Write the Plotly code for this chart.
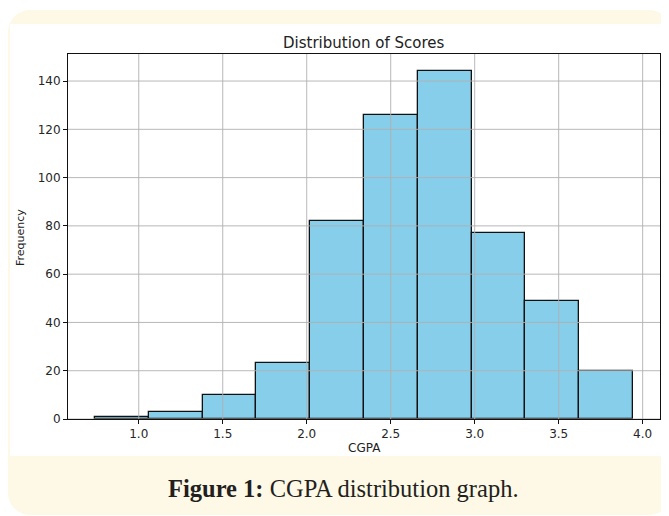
import plotly.graph_objects as go

# ---- data ----
bin_edges = [0.739, 1.059, 1.380, 1.700, 2.021, 2.341, 2.661, 2.982, 3.302, 3.623, 3.943]
counts = [1, 3, 10, 23, 82, 126, 144, 77, 49, 20]
x_ticks = [1.0, 1.5, 2.0, 2.5, 3.0, 3.5, 4.0]
y_ticks = [0, 20, 40, 60, 80, 100, 120, 140]
title_text = "Distribution of Scores"
x_label = "CGPA"
y_label = "Frequency"
caption = "<b>Figure 1:</b> CGPA distribution graph."

OFF = 8  # page body margin
W, H = 669 - OFF, 516 - OFF
L, R, T, B = 68 - OFF, 660 - OFF, 54 - OFF, 419 - OFF  # plot area in figure pixels

centers = [(a + b) / 2 for a, b in zip(bin_edges[:-1], bin_edges[1:])]
widths = [b - a for a, b in zip(bin_edges[:-1], bin_edges[1:])]

span = bin_edges[-1] - bin_edges[0]
x_range = [bin_edges[0] - 0.05 * span, bin_edges[-1] + 0.05 * span]
y_range = [0, max(counts) * 1.05]


def px(xp):
    # xp: screen pixel in reference picture
    return (xp - OFF - L) / (R - L)


def py(yp):
    return (B - (yp - OFF)) / (B - T)


fig = go.Figure()
fig.add_trace(go.Bar(
    x=centers, y=counts, width=widths,
    marker=dict(color="#87CEEB", line=dict(color="#111111", width=1.3)),
    hoverinfo="skip",
))

shapes = []


def rounded_path(x0, y0, x1, y1, r):
    k = 0.45
    pts = []
    pts.append(f"M {px(x0 + r)} {py(y0)}")
    pts.append(f"L {px(x1 - r)} {py(y0)}")
    pts.append(f"C {px(x1 - r * k)} {py(y0)} {px(x1)} {py(y0 + r * k)} {px(x1)} {py(y0 + r)}")
    pts.append(f"L {px(x1)} {py(y1 - r)}")
    pts.append(f"C {px(x1)} {py(y1 - r * k)} {px(x1 - r * k)} {py(y1)} {px(x1 - r)} {py(y1)}")
    pts.append(f"L {px(x0 + r)} {py(y1)}")
    pts.append(f"C {px(x0 + r * k)} {py(y1)} {px(x0)} {py(y1 - r * k)} {px(x0)} {py(y1 - r)}")
    pts.append(f"L {px(x0)} {py(y0 + r)}")
    pts.append(f"C {px(x0)} {py(y0 + r * k)} {px(x0 + r * k)} {py(y0)} {px(x0 + r)} {py(y0)}")
    pts.append("Z")
    return " ".join(pts)


shapes.append(dict(type="path", xref="paper", yref="paper", layer="below",
                   path=rounded_path(8, 10, 671, 515, 22),
                   fillcolor="#FEF9E6", line=dict(width=0)))
shapes.append(dict(type="rect", xref="paper", yref="paper", layer="below",
                   x0=px(10), x1=px(669), y0=py(24), y1=py(456),
                   fillcolor="white", line=dict(width=0)))

# grid lines drawn above bars (as matplotlib does)
for xv in x_ticks:
    shapes.append(dict(type="line", xref="x", yref="paper", layer="above",
                       x0=xv, x1=xv, y0=0, y1=1,
                       line=dict(color="#b0b0b0", width=0.9)))
for yv in y_ticks:
    shapes.append(dict(type="line", xref="paper", yref="y", layer="above",
                       x0=0, x1=1, y0=yv, y1=yv,
                       line=dict(color="#b0b0b0", width=0.9)))

tick_font = dict(family="DejaVu Sans", size=12, color="#262626")

fig.update_layout(
    width=W, height=H,
    margin=dict(l=L, r=W - R, t=T, b=H - B, pad=0),
    paper_bgcolor="white", plot_bgcolor="white",
    showlegend=False, bargap=0,
    shapes=shapes,
    xaxis=dict(range=x_range, tickvals=x_ticks, tickformat=".1f",
               showgrid=False, zeroline=False,
               showline=True, mirror=True, linecolor="#111111", linewidth=1,
               ticks="outside", ticklen=4, tickcolor="#111111", tickwidth=1,
               tickfont=tick_font, layer="above traces"),
    yaxis=dict(range=y_range, tickvals=y_ticks,
               showgrid=False, zeroline=False,
               showline=True, mirror=True, linecolor="#111111", linewidth=1,
               ticks="outside", ticklen=4, tickcolor="#111111", tickwidth=1,
               tickfont=tick_font, layer="above traces"),
    annotations=[
        dict(text=title_text, xref="paper", yref="paper", x=0.5, y=py(43),
             showarrow=False, xanchor="center", yanchor="middle",
             font=dict(family="DejaVu Sans", size=15, color="#222222")),
        dict(text=x_label, xref="paper", yref="paper", x=0.5, y=py(448),
             showarrow=False, xanchor="center", yanchor="middle",
             font=dict(family="DejaVu Sans", size=12, color="#222222")),
        dict(text=y_label, xref="paper", yref="paper", x=px(21), y=py(238),
             showarrow=False, xanchor="center", yanchor="middle", textangle=-90,
             font=dict(family="DejaVu Sans", size=11, color="#222222")),
        dict(text=caption, xref="paper", yref="paper", x=px(343), y=py(489),
             showarrow=False, xanchor="center", yanchor="middle",
             font=dict(family="Liberation Serif", size=24.5, color="#231f20")),
    ],
)

fig.write_html("out.html")
